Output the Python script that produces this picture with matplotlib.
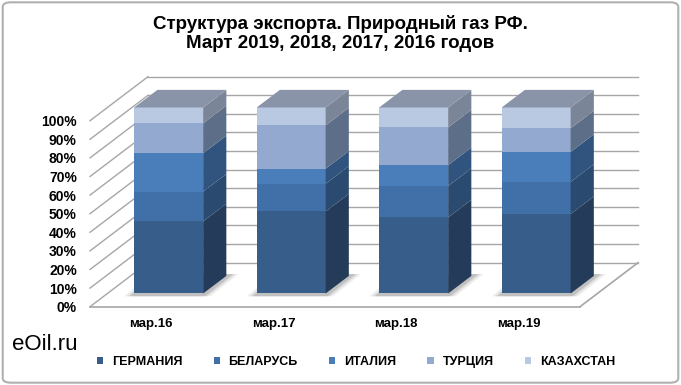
import matplotlib.pyplot as plt
import numpy as np
from matplotlib.patches import Polygon, Patch, FancyBboxPatch

# Export structure, natural gas, March of each year (shares, %)
months = ["мар.16", "мар.17", "мар.18", "мар.19"]
germany = [38.8, 44.1, 40.9, 42.7]
belarus = [16.0, 14.9, 16.9, 17.3]
italy = [20.6, 8.1, 11.2, 16.1]
turkey = [16.1, 23.3, 20.3, 12.7]
kazakhstan = [8.5, 9.6, 10.7, 11.2]
names = ["ГЕРМАНИЯ", "БЕЛАРУСЬ", "ИТАЛИЯ", "ТУРЦИЯ", "КАЗАХСТАН"]

front_cols = ["#375D8B", "#4170A8", "#4A7EBB", "#93A9D0", "#B9C9E2"]
side_cols = ["#243B5A", "#2B4A6F", "#30547D", "#5D6E88", "#7B8598"]
top_col = "#8A94A8"

plt.rcParams['font.family'] = ['Liberation Sans', 'DejaVu Sans']

series = np.array([germany, belarus, italy, turkey, kazakhstan])
shares = series / series.sum(axis=0) * 100

fig = plt.figure(figsize=(6.81, 3.85), dpi=100)
ax = fig.add_axes([90 / 681, (385 - 306.7) / 385, 490 / 681, 186 / 385])
ax.set_xlim(-0.5, 3.5)
ax.set_ylim(0, 100)

# oblique depth of the chart box (in data units)
Dx, Dy = 0.4735, 23.66
f0, f1 = 0.3, 0.7
w = 0.563
grid_c = "#A6A6A6"

# walls: left + back gridlines, floor edges
for v in range(0, 101, 10):
    ax.plot([-0.5, -0.5 + Dx], [v, v + Dy], color=grid_c, lw=1, zorder=1, clip_on=False)
    ax.plot([-0.5 + Dx, 3.5 + Dx], [v + Dy, v + Dy], color=grid_c, lw=1, zorder=1, clip_on=False)
ax.plot([-0.5, 3.5], [0, 0], color=grid_c, lw=1.2, zorder=1, clip_on=False)
ax.plot([3.5, 3.5 + Dx], [0, Dy], color=grid_c, lw=1.2, zorder=1, clip_on=False)

x = np.arange(len(months))

# soft shadows on the floor
for xi in x:
    for k, a in zip([0.06, 0.035, 0.015], [0.10, 0.14, 0.2]):
        shp = [(xi - w / 2 - k + f0 * Dx - 0.02, f0 * Dy - 1.5),
               (xi + w / 2 + k + f0 * Dx, f0 * Dy - 1.5),
               (xi + w / 2 + k + f1 * Dx + 0.04, f1 * Dy + 1),
               (xi - w / 2 - k + f1 * Dx, f1 * Dy + 1)]
        ax.add_patch(Polygon(shp, closed=True, fc="#606060", ec="none",
                             alpha=a, zorder=2, clip_on=False))

bottom = np.zeros(len(months))
for i in range(len(names)):
    h = shares[i]
    ax.bar(x + f0 * Dx, h, width=w, bottom=bottom + f0 * Dy,
           color=front_cols[i], zorder=3, clip_on=False)
    for xi, b, hi in zip(x, bottom, h):
        xr = xi + w / 2
        side = [(xr + f0 * Dx, b + f0 * Dy), (xr + f1 * Dx, b + f1 * Dy),
                (xr + f1 * Dx, b + hi + f1 * Dy), (xr + f0 * Dx, b + hi + f0 * Dy)]
        ax.add_patch(Polygon(side, closed=True, fc=side_cols[i], ec="none",
                             zorder=3, clip_on=False))
    bottom = bottom + h

for xi, tot in zip(x, bottom):
    top = [(xi - w / 2 + f0 * Dx, tot + f0 * Dy), (xi + w / 2 + f0 * Dx, tot + f0 * Dy),
           (xi + w / 2 + f1 * Dx, tot + f1 * Dy), (xi - w / 2 + f1 * Dx, tot + f1 * Dy)]
    ax.add_patch(Polygon(top, closed=True, fc=top_col, ec="none", zorder=3, clip_on=False))

for s in ax.spines.values():
    s.set_visible(False)
ax.set_yticks(range(0, 101, 10))
ax.set_yticklabels([f"{v}%" for v in range(0, 101, 10)], fontsize=10, fontweight="bold")
ax.set_xticks(x)
ax.set_xticklabels(months, fontsize=9.5, fontweight="bold")
ax.tick_params(axis="y", length=0, pad=9.5)
ax.tick_params(axis="x", length=0, pad=8)
ax.set_facecolor("none")

fig.text(0.5, 0.913, "Структура экспорта. Природный газ РФ.\nМарт 2019, 2018, 2017, 2016 годов",
         ha="center", va="center", fontsize=13.5, fontweight="bold", linespacing=1.2)
fig.text(12 / 681, 1 - 345 / 385, "eOil.ru", ha="left", va="center", fontsize=16)

handles = [Patch(facecolor=c, edgecolor="none") for c in front_cols]
fig.legend(handles, names, loc="center", bbox_to_anchor=(356 / 681, 1 - 362 / 385),
           ncol=5, frameon=False, handlelength=0.5, handleheight=0.5,
           handletextpad=0.7, columnspacing=2.5, prop={"weight": "bold", "size": 9})

fig.add_artist(FancyBboxPatch((0.004, 0.006), 0.992, 0.988,
                              boxstyle="round,pad=0,rounding_size=0.012",
                              transform=fig.transFigure, fc="none",
                              ec="#B0B0B0", lw=1.5))

fig.savefig("out.png", dpi=100)
